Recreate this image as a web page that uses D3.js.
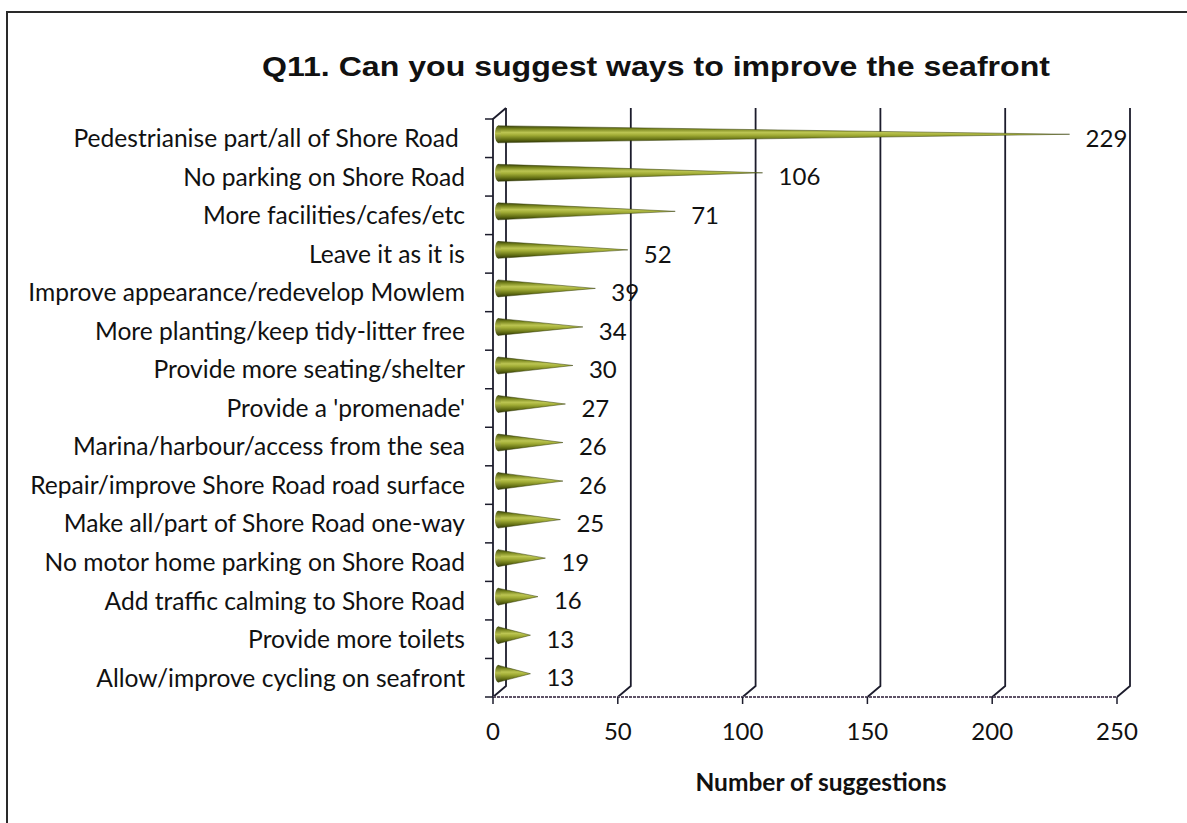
<!DOCTYPE html>
<html>
<head>
<meta charset="utf-8">
<script src="https://cdn.jsdelivr.net/npm/d3@7"></script>
<style>
  html, body { margin: 0; padding: 0; background: #ffffff; }
  svg { display: block; }
  text { white-space: pre; }
</style>
</head>
<body>
<div id="chart"></div>
<script>
// ---- data ----
const categories = [
  "Pedestrianise part/all of Shore Road ",
  "No parking on Shore Road",
  "More facilities/cafes/etc",
  "Leave it as it is",
  "Improve appearance/redevelop Mowlem",
  "More planting/keep tidy-litter free",
  "Provide more seating/shelter",
  "Provide a 'promenade'",
  "Marina/harbour/access from the sea",
  "Repair/improve Shore Road road surface",
  "Make all/part of Shore Road one-way",
  "No motor home parking on Shore Road",
  "Add traffic calming to Shore Road",
  "Provide more toilets",
  "Allow/improve cycling on seafront"
];
const values = [229, 106, 71, 52, 39, 34, 30, 27, 26, 26, 25, 19, 16, 13, 13];
const xTicks = [0, 50, 100, 150, 200, 250];
const titleText = "Q11. Can you suggest ways to improve the seafront";
const xAxisTitle = "Number of suggestions";

// ---- layout ----
const W = 1187, H = 823;
const front = { left: 493, right: 1117, top: 119, bottom: 697 };
const depth = { dx: 13, dy: -11 };
const coneOff = { dx: 5, dy: -4 };
const coneR = 8.5;
const labelFont = "Lato, 'Open Sans', sans-serif";

const svg = d3.select("#chart").append("svg").attr("width", W).attr("height", H);

const x = d3.scaleLinear().domain([0, 250]).range([front.left, front.right]);
const y = d3.scaleBand().domain(categories).range([front.top, front.bottom]).padding(0);

// gradient for cones
const defs = svg.append("defs");
const grad = defs.append("linearGradient").attr("id", "coneGrad")
  .attr("x1", 0).attr("y1", 0).attr("x2", 0).attr("y2", 1);
[["0%", "#363f08"], ["18%", "#76831c"], ["40%", "#bcc552"], ["55%", "#a2ad36"], ["80%", "#647014"], ["100%", "#2f3606"]]
  .forEach(([o, c]) => grad.append("stop").attr("offset", o).attr("stop-color", c));
const gradBase = defs.append("linearGradient").attr("id", "baseGrad")
  .attr("x1", 0).attr("y1", 0).attr("x2", 0).attr("y2", 1);
[["0%", "#4a540f"], ["45%", "#b7c04c"], ["100%", "#3a420a"]]
  .forEach(([o, c]) => gradBase.append("stop").attr("offset", o).attr("stop-color", c));

// outer frame
svg.append("path")
  .attr("d", `M7,${H + 5} L7,12 L${W + 5},12`)
  .attr("fill", "none").attr("stroke", "#2a2a2a").attr("stroke-width", 2);

// title
svg.append("text")
  .attr("x", 656).attr("y", 76)
  .attr("text-anchor", "middle")
  .attr("font-family", "Liberation Sans, Arial, sans-serif")
  .attr("font-weight", "bold")
  .attr("font-size", 28)
  .attr("textLength", 788)
  .attr("lengthAdjust", "spacingAndGlyphs")
  .attr("fill", "#111")
  .text(titleText);

const lineColor = "#1c1c2c";
const g = svg.append("g");

// back wall gridlines with slanted floor connections
xTicks.forEach(t => {
  const fx = x(t);
  const bx = fx + depth.dx;
  g.append("path")
    .attr("d", `M${bx},${front.top + depth.dy} L${bx},${front.bottom + depth.dy} L${fx},${front.bottom}`)
    .attr("fill", "none").attr("stroke", lineColor).attr("stroke-width", 1.8);
});
// top slant of left wall and front axis line
g.append("path")
  .attr("d", `M${x(0)},${front.bottom} L${x(0)},${front.top} L${x(0) + depth.dx},${front.top + depth.dy}`)
  .attr("fill", "none").attr("stroke", lineColor).attr("stroke-width", 1.8);

// floor front edge (baseline)
g.append("line")
  .attr("x1", x(0)).attr("x2", x(250))
  .attr("y1", front.bottom).attr("y2", front.bottom)
  .attr("stroke", "#5d5266").attr("stroke-width", 2.2).attr("stroke-dasharray", "3,1");

// x axis ticks
g.selectAll(".xt").data(xTicks).enter().append("line")
  .attr("x1", d => x(d)).attr("x2", d => x(d))
  .attr("y1", front.bottom).attr("y2", front.bottom + 7)
  .attr("stroke", lineColor).attr("stroke-width", 1.5);

// y axis ticks at band boundaries
const bounds = categories.map(c => y(c)).concat([front.bottom]);
g.selectAll(".yt").data(bounds).enter().append("line")
  .attr("x1", x(0) - 8).attr("x2", x(0))
  .attr("y1", d => d).attr("y2", d => d)
  .attr("stroke", lineColor).attr("stroke-width", 1.5);

// x tick labels
g.selectAll(".xl").data(xTicks).enter().append("text")
  .attr("x", d => x(d)).attr("y", 740)
  .attr("text-anchor", "middle")
  .attr("font-family", labelFont)
  .attr("font-size", 24)
  .attr("fill", "#111")
  .text(d => d);

// category labels
g.selectAll(".cl").data(categories).enter().append("text")
  .attr("x", 465)
  .attr("y", d => y(d) + y.bandwidth() / 2)
  .attr("dy", "0.36em")
  .attr("text-anchor", "end")
  .attr("font-family", labelFont)
  .attr("font-size", 24.6)
  .attr("fill", "#111")
  .text(d => d);

// cones
const data = categories.map((c, i) => ({ c, v: values[i] }));
const cones = g.selectAll(".cone").data(data).enter().append("g");
cones.append("path")
  .attr("d", d => {
    const cy = y(d.c) + y.bandwidth() / 2 + coneOff.dy;
    const x0 = x(0) + coneOff.dx;
    const xt = x(d.v) + coneOff.dx;
    return `M${x0},${cy - coneR} L${xt},${cy} L${x0},${cy + coneR} Z`;
  })
  .attr("fill", "url(#coneGrad)")
  .attr("stroke", "#343c08").attr("stroke-width", 0.5);
cones.append("ellipse")
  .attr("cx", x(0) + coneOff.dx)
  .attr("cy", d => y(d.c) + y.bandwidth() / 2 + coneOff.dy)
  .attr("rx", 3).attr("ry", coneR)
  .attr("fill", "url(#baseGrad)");

// value labels
g.selectAll(".vl").data(data).enter().append("text")
  .attr("x", d => x(d.v) + 21)
  .attr("y", d => y(d.c) + y.bandwidth() / 2)
  .attr("dy", "0.36em")
  .attr("font-family", labelFont)
  .attr("font-size", 24)
  .attr("fill", "#111")
  .text(d => d.v);

// x axis title
svg.append("text")
  .attr("x", 821).attr("y", 791)
  .attr("text-anchor", "middle")
  .attr("font-family", labelFont)
  .attr("font-weight", "bold")
  .attr("font-size", 24.5)
  .attr("fill", "#111")
  .text(xAxisTitle);
</script>
</body>
</html>
